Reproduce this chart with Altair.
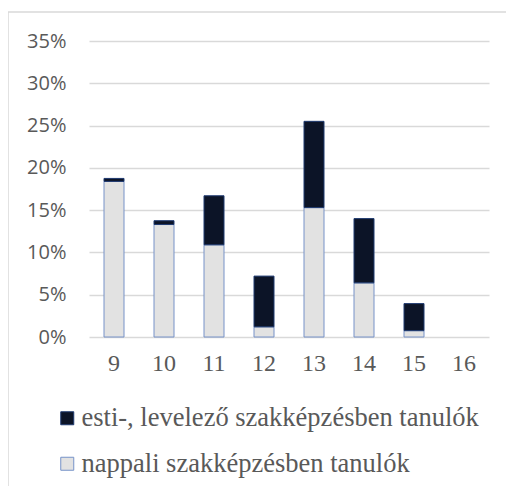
import altair as alt
import pandas as pd

categories = ["9", "10", "11", "12", "13", "14", "15", "16"]
nappali = [18.4, 13.3, 10.9, 1.2, 15.3, 6.4, 0.75, 0.0]
esti = [0.35, 0.45, 5.8, 6.0, 10.2, 7.6, 3.2, 0.0]
series = ["esti-, levelező szakképzésben tanulók", "nappali szakképzésben tanulók"]
y_ticks = [0, 5, 10, 15, 20, 25, 30, 35]

rows = []
for c, n, e in zip(categories, nappali, esti):
    rows.append({"cat": c, "series": series[1], "value": n, "ord": 0})
    rows.append({"cat": c, "series": series[0], "value": e, "ord": 1})
df = pd.DataFrame(rows)

bars = alt.Chart(df).transform_filter("datum.value > 0").mark_bar(size=20, strokeWidth=1).encode(
    x=alt.X("cat:N", sort=categories,
            scale=alt.Scale(domain=categories, paddingInner=0, paddingOuter=0),
            axis=alt.Axis(title=None, labelAngle=0, ticks=False, domain=False,
                          labelFont="Liberation Serif", labelFontSize=24,
                          labelColor="#595959", labelPadding=14)),
    y=alt.Y("value:Q", stack="zero",
            scale=alt.Scale(domain=[0, 35], nice=False),
            axis=alt.Axis(title=None, values=y_ticks, ticks=False, domain=False,
                          labelExpr="datum.value + '%'",
                          labelFont="Open Sans", labelFontSize=20,
                          labelColor="#595959", labelPadding=23,
                          gridColor="#d9d9d9", gridWidth=1.5)),
    color=alt.Color("series:N", sort=series,
                    scale=alt.Scale(domain=series, range=["#0c1427", "#e2e2e2"]),
                    legend=alt.Legend(title=None, orient="none", legendX=-35, legendY=364,
                                      direction="vertical", symbolType="square",
                                      symbolSize=169, symbolStrokeColor="#4a6fb0",
                                      symbolStrokeWidth=1, labelFont="Liberation Serif",
                                      labelFontSize=26.5, labelColor="#595959",
                                      labelOffset=1, rowPadding=18.5, labelLimit=500)),
    stroke=alt.Stroke("series:N",
                      scale=alt.Scale(domain=series, range=["#1f3a70", "#7692c8"]),
                      legend=None),
    order=alt.Order("ord:Q"),
)

border = alt.Chart(pd.DataFrame({"k": [0]})).mark_rect(
    fill=None, stroke="#d9d9d9", strokeWidth=1.5
).encode(
    x=alt.value(-81), x2=alt.value(420), y=alt.value(-29), y2=alt.value(480)
)

chart = alt.layer(border, bars).properties(
    width=400, height=296,
    autosize=alt.AutoSizeParams(type="none"),
    padding={"left": 81, "top": 33, "right": 17, "bottom": 149},
).configure_view(stroke=None)

chart.save("out.html", embed_options={"renderer": "svg", "actions": False})
